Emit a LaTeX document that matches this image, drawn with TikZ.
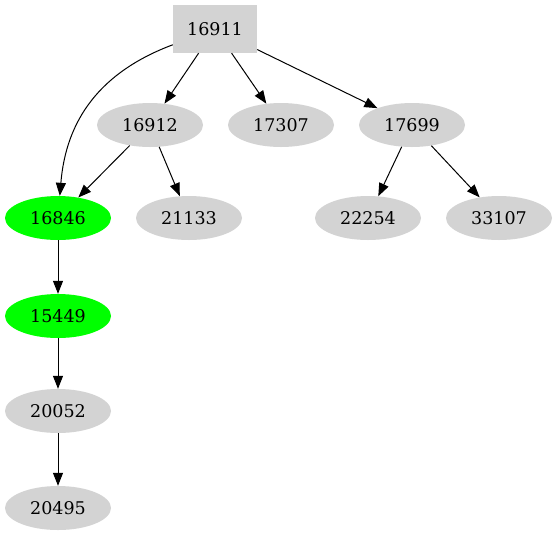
\documentclass[tikz,border=0pt]{standalone}
\usepackage{fontspec}
\setmainfont{DejaVu Serif}
\usetikzlibrary{arrows.meta,shapes.geometric}
\begin{document}
\begin{tikzpicture}[x=1pt,y=-1pt,
  every node/.style={font=\fontsize{17.5pt}{20pt}\selectfont, inner sep=0pt},
  ell/.style={ellipse, fill=lgray, minimum width=106pt, minimum height=44pt},
  grn/.style={ellipse, fill={rgb,255:red,0;green,255;blue,0}, minimum width=106pt, minimum height=44pt},
  boxn/.style={rectangle, fill=lgray, minimum width=84pt, minimum height=48pt},
  arr/.style={-{Triangle[length=13pt,width=10pt]}, line width=1pt}]
\definecolor{lgray}{RGB}{211,211,211}
\useasboundingbox (0,0) rectangle (559,539);
\node[boxn] (n16911) at (215,29) {16911};
\node[ell] (n16912) at (150,125) {16912};
\node[ell] (n17307) at (281,125) {17307};
\node[ell] (n17699) at (412,125) {17699};
\node[grn] (n16846) at (58,218) {16846};
\node[ell] (n21133) at (189,218) {21133};
\node[ell] (n22254) at (368,218) {22254};
\node[ell] (n33107) at (499,218) {33107};
\node[grn] (n15449) at (58,316) {15449};
\node[ell] (n20052) at (58,411) {20052};
\node[ell] (n20495) at (58,508) {20495};
\draw[arr] (n16911) .. controls (100,72) and (66,120) .. (n16846);
\draw[arr] (n16911) -- (n16912);
\draw[arr] (n16911) -- (n17307);
\draw[arr] (n16911) -- (n17699);
\draw[arr] (n16912) -- (n16846);
\draw[arr] (n16912) -- (n21133);
\draw[arr] (n17699) -- (n22254);
\draw[arr] (n17699) -- (n33107);
\draw[arr] (n16846) -- (n15449);
\draw[arr] (n15449) -- (n20052);
\draw[arr] (n20052) -- (n20495);
\end{tikzpicture}
\end{document}
